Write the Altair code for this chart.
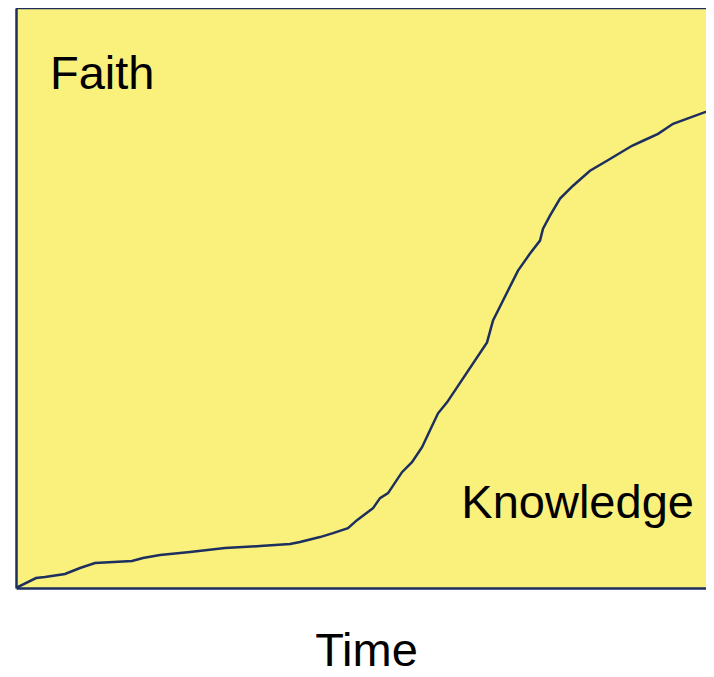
import altair as alt
import pandas as pd

# S-curve values (time 0-100, knowledge 0-100)
time = [0, 2.87, 4.15, 7.02, 9.17, 11.32, 16.62, 18.19, 20.63, 24.93, 29.94, 34.96,
        39.26, 40.69, 43.55, 45.42, 47.56, 48.85, 51.15, 52.15, 53.30, 55.30, 56.73,
        58.17, 59.31, 60.46, 61.75, 67.48, 68.34, 69.63, 70.49, 71.92, 73.64, 75.07,
        75.50, 76.50, 77.94, 79.80, 82.23, 84.67, 88.25, 89.83, 91.98, 94.13, 100]
knowledge = [0, 1.72, 1.89, 2.41, 3.44, 4.30, 4.65, 5.16, 5.68, 6.20, 6.88, 7.23,
             7.57, 7.92, 8.78, 9.47, 10.33, 11.70, 13.77, 15.49, 16.35, 19.97, 21.69,
             24.27, 27.19, 30.12, 32.01, 42.34, 46.13, 49.23, 51.29, 54.73, 57.66, 59.90,
             61.96, 64.20, 67.13, 69.36, 71.94, 73.67, 76.25, 77.11, 78.31, 80.03, 82.62]

labels = ["Faith", "Knowledge"]
label_time = [4.87, 63.8]
label_know = [86.1, 12.0]
x_title = "Time"

NAVY = "#1C2F5E"
YELLOW = "#FAF07C"
FONT = "Liberation Sans"
FS = 47

df = pd.DataFrame({"time": time, "knowledge": knowledge})
lab = pd.DataFrame({"label": labels, "time": label_time, "knowledge": label_know})

# visible part of the time axis (the reference's frame runs past the window edge)
xs = alt.Scale(domain=[0, 98.85], nice=False, zero=False)
ys = alt.Scale(domain=[0, 100], nice=False, zero=False)

line = alt.Chart(df).mark_line(color=NAVY, strokeWidth=2.5, clip=True).encode(
    x=alt.X("time:Q", scale=xs,
            axis=alt.Axis(title=x_title, labels=False, ticks=False, grid=False,
                          domainColor=NAVY, domainWidth=2.5,
                          titleFont=FONT, titleFontSize=FS, titleFontWeight="normal",
                          titleColor="black", titleBaseline="alphabetic",
                          titlePadding=77, titleX=350)),
    y=alt.Y("knowledge:Q", scale=ys,
            axis=alt.Axis(title=None, labels=False, ticks=False, grid=False,
                          domainColor=NAVY, domainWidth=2.5)),
)

text = alt.Chart(lab).mark_text(align="left", baseline="alphabetic", font=FONT,
                                fontSize=FS, color="black").encode(
    x=alt.X("time:Q", scale=xs),
    y=alt.Y("knowledge:Q", scale=ys),
    text="label:N",
)

top = alt.Chart(pd.DataFrame({"a": [0]})).mark_rule(color=NAVY, strokeWidth=2.5).encode(
    x=alt.value(0), x2=alt.value(690), y=alt.value(0)
)

chart = alt.layer(line, text, top).properties(
    width=690, height=580,
    autosize=alt.AutoSizeParams(type="none"),
    padding={"left": 8, "top": 0, "right": 0, "bottom": 81},
).configure_view(fill=YELLOW, strokeWidth=0)

chart.save("out.html", embed_options={"renderer": "svg", "actions": False})
